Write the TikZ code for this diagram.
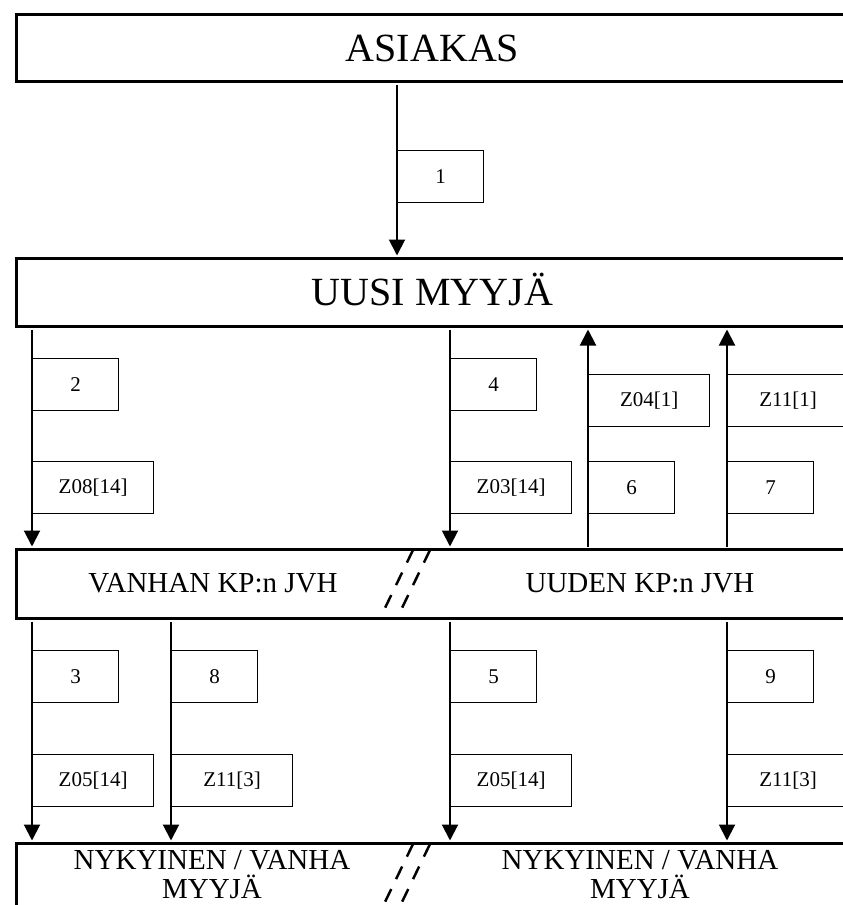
\documentclass[tikz,border=0pt]{standalone}
\usepackage{fontspec}
\setmainfont{Liberation Serif}
\usetikzlibrary{arrows.meta}
\begin{document}
\begin{tikzpicture}[x=1pt,y=-1pt,
  bigbox/.style={draw, line width=3pt, anchor=north west, inner sep=0pt, minimum width=832pt},
  lab/.style={draw, line width=1.3pt, anchor=north west, inner sep=0pt, minimum width=86pt, minimum height=52pt, font=\fontsize{21}{24}\selectfont},
  wide/.style={lab, minimum width=121pt},
  flow/.style={line width=2pt, shorten >=1.5pt, shorten <=1.5pt, -{Triangle[width=16pt,length=16pt]}},
  slash/.style={line width=2.5pt, dash pattern=on 14pt off 11pt},
  title/.style={font=\fontsize{40}{42}\selectfont, text height=26.5pt, text depth=0pt},
  sub/.style={font=\fontsize{29}{29}\selectfont}]
\useasboundingbox (0,0) rectangle (843,905);
\clip (0,0) rectangle (843,905);
% main boxes
\node[bigbox, title, minimum height=67pt] (asiakas) at (15,13) {ASIAKAS};
\node[bigbox, title, minimum height=68pt] (uusi) at (15,257) {UUSI MYYJÄ};
\node[bigbox, minimum width=870pt, minimum height=69pt] (jvh) at (15,548) {};
\node[bigbox, minimum width=870pt, minimum height=100pt] (myyja) at (15,842) {};
\node[sub] (vanhan) at (213,583) {VANHAN KP:n JVH};
\node[sub] (uuden) at (640,583) {UUDEN KP:n JVH};
\node[sub, align=center, anchor=north] (nyk1) at (212,847) {NYKYINEN / VANHA\\MYYJÄ};
\node[sub, align=center, anchor=north] (nyk2) at (640,847) {NYKYINEN / VANHA\\MYYJÄ};
% columns
\coordinate (xa) at (397,0);
\coordinate (xb) at (32,0);
\coordinate (xc) at (171,0);
\coordinate (xd) at (450,0);
\coordinate (xe) at (588,0);
\coordinate (xf) at (727,0);
% labels
\node[lab] (l1) at (397,150) {1};
\node[lab] (l2) at (32,358) {2};
\node[lab] (l4) at (450,358) {4};
\node[wide] (lz04) at (588,374) {Z04[1]};
\node[wide] (lz11a) at (727,374) {Z11[1]};
\node[wide] (lz08) at (32,461) {Z08[14]};
\node[wide] (lz03) at (450,461) {Z03[14]};
\node[lab] (l6) at (588,461) {6};
\node[lab] (l7) at (727,461) {7};
\node[lab] (l3) at (32,650) {3};
\node[lab] (l8) at (171,650) {8};
\node[lab] (l5) at (450,650) {5};
\node[lab] (l9) at (727,650) {9};
\node[wide] (lz05a) at (32,754) {Z05[14]};
\node[wide] (lz11b) at (171,754) {Z11[3]};
\node[wide] (lz05b) at (450,754) {Z05[14]};
\node[wide] (lz11c) at (727,754) {Z11[3]};
% connectors
\draw[flow] (asiakas.south -| xa) -- (uusi.north -| xa);
\draw[flow] (uusi.south -| xb) -- (jvh.north -| xb);
\draw[flow] (uusi.south -| xd) -- (jvh.north -| xd);
\draw[flow] (jvh.north -| xe) -- (uusi.south -| xe);
\draw[flow] (jvh.north -| xf) -- (uusi.south -| xf);
\draw[flow] (jvh.south -| xb) -- (myyja.north -| xb);
\draw[flow] (jvh.south -| xc) -- (myyja.north -| xc);
\draw[flow] (jvh.south -| xd) -- (myyja.north -| xd);
\draw[flow] (jvh.south -| xf) -- (myyja.north -| xf);
% break marks
\draw[slash] (430,550) -- (402,608);
\draw[slash] (413,550) -- (385,608);
\draw[slash] (430,844) -- (402,902);
\draw[slash] (413,844) -- (385,902);
\end{tikzpicture}
\end{document}
